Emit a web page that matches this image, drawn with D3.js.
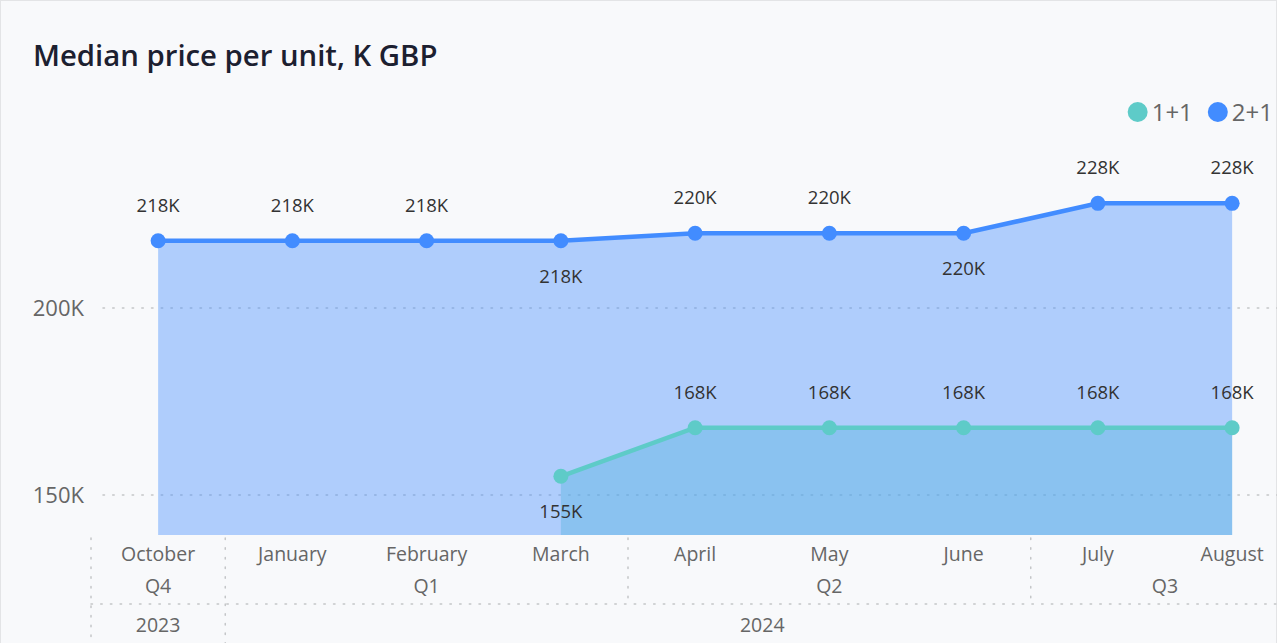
<!DOCTYPE html>
<html>
<head>
<meta charset="utf-8">
<script src="https://cdn.jsdelivr.net/npm/d3@7"></script>
<style>
  html, body { margin: 0; padding: 0; background: #f8f9fb; }
  svg { display: block; font-family: "Open Sans", "Noto Sans", sans-serif; }
</style>
</head>
<body>
<script>
// Chart data
var months = ["October", "January", "February", "March", "April", "May", "June", "July", "August"];
var quarters = ["Q4", "Q1", "Q1", "Q1", "Q2", "Q2", "Q2", "Q3", "Q3"];
var years = ["2023", "2024", "2024", "2024", "2024", "2024", "2024", "2024", "2024"];
var seriesNames = ["1+1", "2+1"];
var values11 = [null, null, null, 155, 168, 168, 168, 168, 168];
var values21 = [218, 218, 218, 218, 220, 220, 220, 228, 228];
var yTicks = [150, 200];

var width = 1277, height = 643;
var colors = { "1+1": "#5ecbc8", "2+1": "#428cff" };

var svg = d3.select("body").append("svg")
    .attr("width", width)
    .attr("height", height);

// frame
svg.append("rect")
    .attr("x", 0.5).attr("y", 0.5)
    .attr("width", width - 1).attr("height", height)
    .attr("fill", "#f8f9fb")
    .attr("stroke", "#e3e4e6");

// title
svg.append("text")
    .attr("x", 33).attr("y", 66)
    .attr("font-size", 29.3)
    .attr("font-weight", 600)
    .attr("fill", "#1c2030")
    .text("Median price per unit, K GBP");

// scales
var x = d3.scaleBand()
    .domain(months)
    .range([91, 91 + 134.25 * months.length])
    .padding(0);

var y = d3.scaleLinear()
    .domain([139.3, 250.3])
    .range([535, 120]);

var cx = function (i) { return x(months[i]) + x.bandwidth() / 2; };

// y gridlines + labels
var grid = svg.append("g");
yTicks.forEach(function (t) {
    grid.append("line")
        .attr("x1", 103).attr("x2", width)
        .attr("y1", y(t)).attr("y2", y(t))
        .attr("stroke", "#c4c6c8")
        .attr("stroke-width", 1.5)
        .attr("stroke-dasharray", "1.5,8.2")
        .attr("stroke-linecap", "round");
    grid.append("text")
        .attr("x", 84).attr("y", y(t) + 8)
        .attr("text-anchor", "end")
        .attr("font-size", 22)
        .attr("fill", "#666666")
        .text(t + "K");
});

// series records
var series = [
    { name: "1+1", values: values11 },
    { name: "2+1", values: values21 }
].map(function (s) {
    s.points = s.values.map(function (v, i) { return { i: i, v: v }; })
        .filter(function (p) { return p.v !== null; });
    return s;
});

var area = d3.area()
    .x(function (p) { return cx(p.i); })
    .y0(y.range()[0])
    .y1(function (p) { return y(p.v); });

var line = d3.line()
    .x(function (p) { return cx(p.i); })
    .y(function (p) { return y(p.v); });

// areas (1+1 underneath, 2+1 on top)
svg.append("g").selectAll("path")
    .data(series)
    .enter().append("path")
    .attr("d", function (s) { return area(s.points); })
    .attr("fill", function (s) { return colors[s.name]; })
    .attr("fill-opacity", 0.4);

// lines + markers
series.forEach(function (s) {
    var g = svg.append("g");
    g.append("path")
        .attr("d", line(s.points))
        .attr("fill", "none")
        .attr("stroke", colors[s.name])
        .attr("stroke-width", 4.5);
    g.selectAll("circle")
        .data(s.points)
        .enter().append("circle")
        .attr("cx", function (p) { return cx(p.i); })
        .attr("cy", function (p) { return y(p.v); })
        .attr("r", 7.5)
        .attr("fill", colors[s.name]);
});

// data labels: placed below when the next point rises, otherwise above
series.forEach(function (s) {
    svg.append("g").selectAll("text")
        .data(s.points)
        .enter().append("text")
        .attr("x", function (p) { return cx(p.i); })
        .attr("y", function (p) {
            var next = s.values[p.i + 1];
            var below = next != null && next > p.v;
            return below ? y(p.v) + 42 : y(p.v) - 29;
        })
        .attr("text-anchor", "middle")
        .attr("font-size", 18.5)
        .attr("fill", "#333333")
        .text(function (p) { return p.v + "K"; });
});

// hierarchical x axis
var axis = svg.append("g").attr("fill", "#666666").attr("font-size", 19.5);
var dotted = function (x1, y1, x2, y2) {
    axis.append("line")
        .attr("x1", x1).attr("y1", y1).attr("x2", x2).attr("y2", y2)
        .attr("stroke", "#c4c6c8")
        .attr("stroke-width", 1.5)
        .attr("stroke-dasharray", "1.5,8.2")
        .attr("stroke-linecap", "round");
};

months.forEach(function (m, i) {
    axis.append("text")
        .attr("x", cx(i)).attr("y", 561)
        .attr("text-anchor", "middle")
        .text(m);
});

// group consecutive equal labels into spans
function spans(labels) {
    var out = [];
    labels.forEach(function (l, i) {
        var last = out[out.length - 1];
        if (last && last.label === l) last.end = i;
        else out.push({ label: l, start: i, end: i });
    });
    return out;
}

var xLeft = x.range()[0];
spans(quarters).forEach(function (q) {
    var x0 = x(months[q.start]), x1 = x(months[q.end]) + x.bandwidth();
    axis.append("text")
        .attr("x", (x0 + x1) / 2).attr("y", 593)
        .attr("text-anchor", "middle")
        .text(q.label);
    if (q.start > 0) dotted(x0, 538, x0, 603);
});

spans(years).forEach(function (yr) {
    var x0 = x(months[yr.start]), x1 = x(months[yr.end]) + x.bandwidth();
    axis.append("text")
        .attr("x", (x0 + x1) / 2).attr("y", 632)
        .attr("text-anchor", "middle")
        .text(yr.label);
    if (yr.start > 0) dotted(x0, 604, x0, height);
});

dotted(xLeft, 538, xLeft, height);
dotted(xLeft, 604, width, 604);

// legend, laid out right to left so it ends inside the frame
var legend = svg.append("g").attr("font-size", 24).attr("fill", "#666666");
var rx = 1273;
seriesNames.slice().reverse().forEach(function (n) {
    var t = legend.append("text")
        .attr("y", 121)
        .attr("text-anchor", "end")
        .attr("x", rx)
        .text(n);
    var w = t.node().getComputedTextLength();
    legend.append("circle")
        .attr("cx", rx - w - 14).attr("cy", 112)
        .attr("r", 10)
        .attr("fill", colors[n]);
    rx = rx - w - 14 - 10 - 15;
});
</script>
</body>
</html>
